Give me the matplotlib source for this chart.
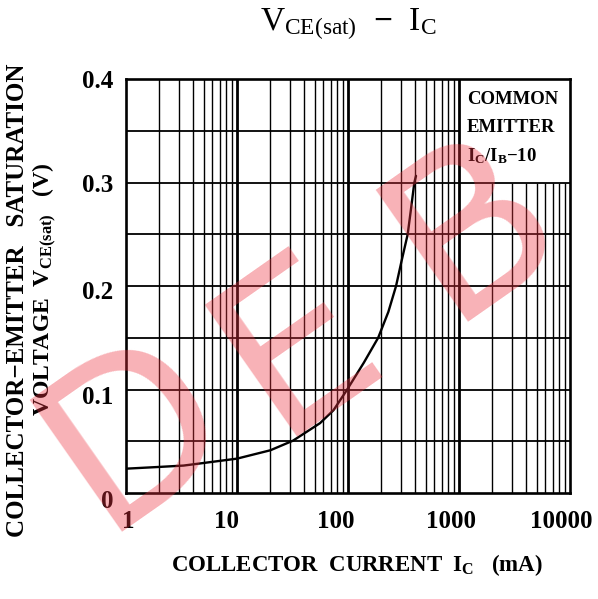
import numpy as np
import matplotlib
matplotlib.use("Agg")
import matplotlib.pyplot as plt
from matplotlib.transforms import ScaledTranslation

# ---------------- data ----------------
ic_ma = [1, 2, 3.3, 5, 10, 20, 32, 56, 74, 97, 139, 187, 231, 271, 305, 345, 370, 396, 410]
vce_sat = [0.0235, 0.0252, 0.0265, 0.029, 0.0332, 0.0413, 0.0506, 0.0675, 0.080, 0.099,
           0.126, 0.150, 0.175, 0.200, 0.225, 0.250, 0.275, 0.300, 0.3064]
x_ticks = [1, 10, 100, 1000, 10000]
x_tick_labels = ["1", "10", "100", "1000", "10000"]
y_ticks = [0, 0.1, 0.2, 0.3, 0.4]
y_tick_labels = ["0", "0.1", "0.2", "0.3", "0.4"]
y_grid = [0.05, 0.1, 0.15, 0.2, 0.25, 0.3, 0.35]
decades = [1, 10, 100, 1000]
note_lines = ["COMMON", "EMITTER", r"$\mathregular{I_C/I_B}$$\mathregular{-10}$"]
watermark = ["D", "E", "B"]

SERIF = "Liberation Serif"
plt.rcParams["font.family"] = [SERIF, "DejaVu Serif"]
plt.rcParams["font.weight"] = "bold"
plt.rcParams["axes.labelweight"] = "bold"
plt.rcParams["mathtext.fontset"] = "custom"
plt.rcParams["mathtext.rm"] = SERIF + ":bold"
plt.rcParams["mathtext.it"] = SERIF + ":bold"
plt.rcParams["mathtext.bf"] = SERIF + ":bold"

W, H = 598, 599
fig = plt.figure(figsize=(W / 100, H / 100), dpi=100)
ax = fig.add_axes([126 / W, 1 - 493 / H, 444 / W, 414 / H])
ax.set_xscale("log")
ax.set_xlim(1, 10000)
ax.set_ylim(0, 0.4)

# box region for the note (upper right): grid omitted there
box_x0, box_y0 = 1000, 0.3

for d in decades:
    for k in range(2, 10):
        x = k * d
        top = box_y0 if x > box_x0 else 0.4
        ax.vlines(x, 0, top, color="black", lw=1.0, zorder=1)
for d in decades[1:]:
    ax.vlines(d, 0, 0.4, color="black", lw=2.0, zorder=1)
for y in y_grid:
    right = box_x0 if y > box_y0 else 10000
    ax.hlines(y, 1, right, color="black", lw=1.3, zorder=1)

ax.plot(ic_ma, vce_sat, color="black", lw=1.7, zorder=3,
        solid_joinstyle="round", solid_capstyle="round")

ax.set_xticks(x_ticks)
ax.set_xticklabels(x_tick_labels)
ax.set_yticks(y_ticks)
ax.set_yticklabels(y_tick_labels)
ax.xaxis.set_minor_locator(matplotlib.ticker.NullLocator())
ax.tick_params(axis="both", length=0, labelsize=18)
ax.tick_params(axis="x", pad=12)
ax.tick_params(axis="y", pad=9)
x_off = [2, -10, -12, -8, -9]
for lab, dx in zip(ax.get_xticklabels(), x_off):
    lab.set_transform(lab.get_transform() + ScaledTranslation(dx / 100, 0, fig.dpi_scale_trans))
y_off = [-6, -5, -4, -1, 0]
for lab, dy in zip(ax.get_yticklabels(), y_off):
    lab.set_transform(lab.get_transform() + ScaledTranslation(0, dy / 100, fig.dpi_scale_trans))
for s in ax.spines.values():
    s.set_linewidth(1.9)
    s.set_zorder(4)

ax.set_xlabel(r"COLLECTOR  CURRENT  $\mathregular{I_C}$   (mA)", fontsize=16.5, labelpad=14)
ax.xaxis.label.set_x(0.52)

# note text
note_y = [0.380, 0.353, 0.325]
for t, yy in zip(note_lines, note_y):
    ax.text(1180, yy, t, fontsize=13.5, ha="left", va="center", zorder=5)

# title
fig.text(348 / W, 1 - 24 / H, r"$\mathregular{V_{CE(sat)}}$  $-$  $\mathregular{I_C}$",
         fontsize=24, ha="center", va="center", weight="normal")

# y label (two lines)
fig.text(18 / W, 1 - 300 / H, "COLLECTOR\u2212EMITTER   SATURATION", rotation=90,
         fontsize=18, ha="center", va="center")
fig.text(45 / W, 1 - 289 / H, r"VOLTAGE  $\mathregular{V_{CE(sat)}}$   (V)", rotation=90,
         fontsize=17, ha="center", va="center")

# watermark letters
wm_pos = [(100, 532), (275, 437), (446, 322)]
for ch, (px, py) in zip(watermark, wm_pos):
    fig.text(px / W, 1 - py / H, ch, fontsize=160, family="DejaVu Sans", weight="normal",
             color=(0.93, 0.2, 0.25), alpha=0.38, rotation=35, rotation_mode="anchor",
             ha="left", va="baseline", zorder=10)

fig.savefig("out.png", dpi=100, facecolor="white")
